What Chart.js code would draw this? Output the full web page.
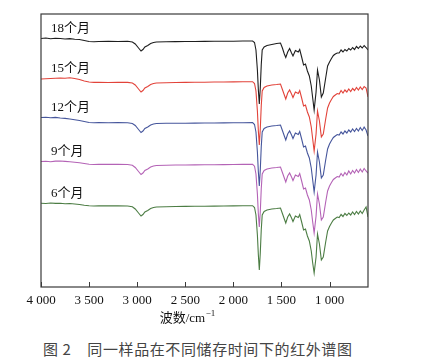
<!DOCTYPE html>
<html>
<head>
<meta charset="utf-8">
<script src="https://cdn.jsdelivr.net/npm/chart.js@4.4.1/dist/chart.umd.min.js"></script>
<style>
  html, body { margin: 0; padding: 0; background: #fff; }
  #wrap { position: relative; width: 447px; height: 360px; }
  #c { position: absolute; left: 0; top: 0; }
  #caption {
    position: absolute; left: 43px; top: 339px;
    font: 15px 'Noto Sans CJK SC', sans-serif; letter-spacing: 0.6px;
    color: #444; white-space: nowrap; line-height: 20px;
  }
</style>
</head>
<body>
<div id="wrap">
  <canvas id="c" width="447" height="330"></canvas>
  <div id="caption">图 2&nbsp;&nbsp;&nbsp;&nbsp;同一样品在不同储存时间下的红外谱图</div>
</div>
<script>
// wavenumber (cm-1)
const wavenumbers = [4000, 3950, 3900, 3850, 3800, 3750, 3700, 3650, 3600, 3550,
  3500, 3450, 3400, 3300, 3200, 3100, 3050, 3020, 2990, 2960,
  2940, 2920, 2890, 2860, 2830, 2800, 2700, 2600, 2500, 2400,
  2300, 2200, 2100, 2000, 1900, 1800, 1780, 1765, 1750, 1740,
  1730, 1720, 1710, 1700, 1680, 1650, 1600, 1550, 1510, 1490,
  1470, 1455, 1435, 1415, 1395, 1380, 1355, 1325, 1310, 1290,
  1270, 1250, 1230, 1210, 1190, 1175, 1160, 1140, 1125, 1105,
  1085, 1065, 1040, 1020, 1000, 980, 960, 940, 920, 900,
  880, 860, 840, 820, 800, 780, 760, 740, 720, 700,
  680, 660, 640, 620, 600];
const tickValues = [4000, 3500, 3000, 2500, 2000, 1500, 1000];

// offset transmittance, arbitrary units
const m18 = [248.5, 249, 248.2, 248.7, 248.5, 248, 248.4, 247.7, 247.5, 246.5,
  245.5, 245.2, 245.5, 245.7, 245.5, 245.8, 245, 243, 239.5, 236,
  237.5, 240, 241.5, 243.5, 244.5, 245, 245.2, 245.4, 245.5, 245.5,
  245.6, 245.7, 245.7, 245.8, 246, 246, 244.5, 237, 217, 197,
  183, 199, 222, 237, 240, 241.5, 242.5, 243.5, 244, 239,
  233, 229.5, 235, 238.5, 234, 231, 236.5, 235, 237.5, 230,
  222, 223, 216, 211, 201, 189, 177, 195, 217, 207,
  190, 194, 209, 221, 225, 228.5, 231.5, 233, 234, 234,
  237, 235, 237.5, 236, 238.5, 237, 239.5, 237.5, 240.5, 238.5,
  241, 239, 241.5, 239.5, 237];
const m15 = [208, 208.3, 208.5, 208.8, 209, 208.7, 209.2, 208.5, 207.5, 206,
  205, 204.6, 204.8, 204.5, 204.7, 204.6, 204, 202, 198.5, 195,
  196.5, 199, 200.5, 202.5, 203.5, 204, 204.3, 204.5, 204.6, 204.7,
  204.8, 205, 205, 205.1, 205.2, 205.3, 203.5, 196, 176, 156,
  142, 158, 181, 196, 199.5, 201, 202, 202.5, 203, 197.5,
  192, 188, 194, 197, 193, 189.5, 195, 193.5, 196.5, 189,
  181, 182, 175, 170, 160, 148, 136, 153, 176, 166,
  150, 153, 168, 179, 184, 187.5, 190.5, 192, 193.5, 193,
  196.5, 194, 197, 195, 198, 195.5, 198.5, 196.5, 199.5, 197,
  200, 197.5, 200.5, 199, 190];
const m12 = [169.5, 169.8, 169.3, 169.6, 169, 168.6, 168, 167.3, 166.5, 165.5,
  164.5, 164.2, 164.5, 164.3, 164.4, 164.2, 163.5, 161.5, 158, 154.5,
  156, 158.5, 160, 162, 163, 163.5, 163.7, 163.8, 163.8, 163.9,
  164, 164, 164.1, 164.2, 164.3, 164.4, 162.5, 155, 135, 115,
  101, 117, 140, 155, 158.5, 160, 161, 161.5, 162, 156.5,
  151, 147, 153, 156, 152, 148.5, 154, 152.5, 155.5, 148,
  140, 141, 134, 129, 119, 107, 95, 112, 135, 125,
  109, 112, 127, 138, 143, 146.5, 149.5, 151, 152.5, 152,
  155, 153, 156, 154, 157, 155, 158, 155.5, 158.5, 156,
  159.5, 156.5, 160, 157, 151];
const m9 = [125.5, 125.8, 125.3, 125.9, 126, 125.6, 125.2, 124.8, 124.3, 123.5,
  122.8, 122.5, 122.8, 122.6, 122.7, 122.5, 121.8, 119.5, 116, 112.5,
  114, 116.5, 118, 120, 121, 121.5, 121.8, 122, 122, 122.1,
  122.3, 122.3, 122.4, 122.5, 122.6, 122.6, 120.8, 113, 93, 73,
  60, 75, 98, 113, 116.5, 118, 119, 119.5, 120, 114.5,
  109, 105, 111, 114, 110, 106.5, 112, 110.5, 113.5, 106,
  98, 99, 92, 87, 77, 65, 54, 71, 93, 83,
  67, 70, 85, 96, 101, 104.5, 107.5, 109, 110.5, 110,
  113.5, 111, 114.5, 112, 116, 113, 116.5, 114, 117.5, 114.5,
  118, 115, 118.5, 116, 114];
const m6 = [83.8, 83.5, 84, 83.6, 83.7, 83.2, 83.5, 83, 82.5, 81.7,
  81.2, 81, 81.3, 81.1, 81.2, 81, 80.3, 78, 74.5, 71,
  72.5, 75, 76.5, 78.5, 79.5, 80, 80.3, 80.5, 80.6, 80.7,
  80.8, 80.9, 81, 81.1, 81.2, 81.3, 79.5, 72, 52, 32,
  17, 34, 57, 72, 75.5, 77, 78, 78.5, 79, 73.5,
  68, 64, 70, 73, 69, 65.5, 71, 69.5, 72.5, 65,
  57, 58, 51, 46, 36, 24, 14, 30, 53, 43,
  27, 30, 45, 56, 60.5, 64, 67, 68.5, 70, 69.5,
  72.5, 70.5, 73.5, 71.5, 74, 72, 75, 72.5, 75.5, 73,
  76, 73.5, 77, 80, 70];

const seriesNames = ['18个月', '15个月', '12个月', '9个月', '6个月'];
const seriesValues = [m18, m15, m12, m9, m6];
const seriesColors = ['#1e1e1e', '#e2433a', '#46569c', '#b463b6', '#4c7d44'];

const datasets = seriesValues.map((vals, i) => ({
    label: seriesNames[i],
    data: wavenumbers.map((w, j) => ({ x: w, y: vals[j] })),
    borderColor: seriesColors[i],
    borderWidth: 1.1,
    pointRadius: 0,
    tension: 0,
    fill: false
}));

const serif = "'Liberation Serif', 'Noto Sans CJK SC', serif";

const decor = {
    id: 'decor',
    afterDraw(chart) {
        const ctx = chart.ctx;
        const a = chart.chartArea;
        const xs = chart.scales.x;
        const ys = chart.scales.y;
        ctx.save();
        // frame
        ctx.strokeStyle = '#3a3a3a';
        ctx.lineWidth = 1.2;
        ctx.strokeRect(a.left, a.top, a.right - a.left, a.bottom - a.top);
        // inward ticks
        ctx.lineWidth = 1;
        xs.ticks.forEach(t => {
            const px = Math.round(xs.getPixelForValue(t.value)) + 0.5;
            ctx.beginPath();
            ctx.moveTo(px, a.bottom);
            ctx.lineTo(px, a.bottom - 5);
            ctx.stroke();
        });
        // series labels
        ctx.fillStyle = '#111';
        ctx.font = '13px ' + serif;
        ctx.textBaseline = 'middle';
        ctx.textAlign = 'left';
        seriesValues.forEach((vals, i) => {
            const px = xs.getPixelForValue(3895);
            const py = ys.getPixelForValue(vals[0]) - 10;
            ctx.fillText(seriesNames[i], px, py);
        });
        // axis title
        const tx = xs.getPixelForValue(2480);
        const ty = 319;
        ctx.font = '13px ' + serif;
        const main = '波数/cm';
        const w1 = ctx.measureText(main).width;
        ctx.font = '9px ' + serif;
        const sup = '−1';
        const w2 = ctx.measureText(sup).width;
        const x0 = tx - (w1 + w2) / 2;
        ctx.font = '13px ' + serif;
        ctx.fillText(main, x0, ty);
        ctx.font = '9px ' + serif;
        ctx.fillText(sup, x0 + w1 + 0.5, ty - 5);
        ctx.restore();
    }
};

new Chart(document.getElementById('c'), {
    type: 'line',
    data: { datasets },
    options: {
        responsive: false,
        animation: false,
        layout: { padding: { left: 41, right: 79, top: 14, bottom: 0 } },
        plugins: { legend: { display: false }, tooltip: { enabled: false } },
        scales: {
            x: {
                type: 'linear',
                reverse: true,
                min: 600,
                max: 4000,
                afterBuildTicks: s => { s.ticks = tickValues.map(v => ({ value: v })); },
                afterFit: s => { s.height = 43; },
                grid: { display: false, drawTicks: false },
                border: { display: false },
                ticks: {
                    padding: 6,
                    color: '#111',
                    font: { family: serif, size: 13 },
                    maxRotation: 0,
                    autoSkip: false,
                    callback: v => String(v).replace(/(\d)(\d{3})$/, '$1 $2')
                }
            },
            y: { display: false, min: 0, max: 273 }
        }
    },
    plugins: [decor]
});
</script>
</body>
</html>
